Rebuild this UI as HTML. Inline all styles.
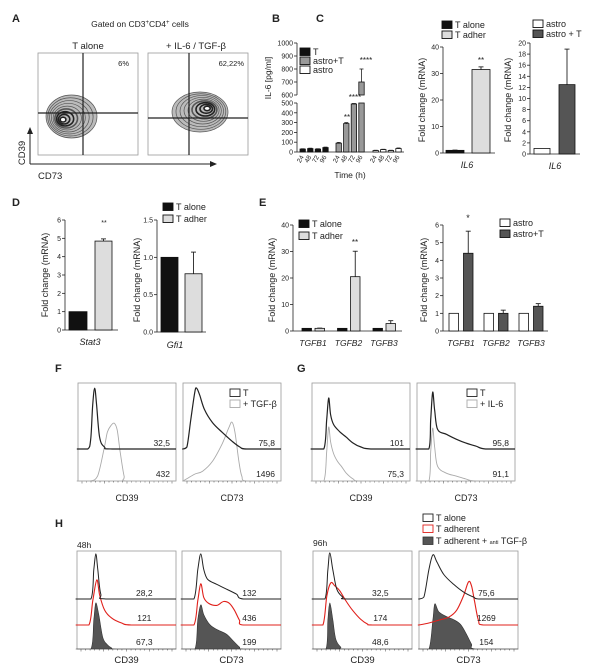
<!DOCTYPE html>
<html><head><meta charset="utf-8"><style>
html,body{margin:0;padding:0;background:#fff;}
svg{display:block;font-family:"Liberation Sans","DejaVu Sans",sans-serif;}
</style></head><body>
<svg id="fig" width="600" height="671" viewBox="0 0 600 671" xmlns="http://www.w3.org/2000/svg"></svg>
<script>
// ---------- data ----------
const B_times=['24','48','72','96'];
const B_T=[30,35,30,45];
const B_T_sem=[3,4,3,5];
const B_astroT=[90,290,490,700];
const B_astroT_sem=[8,10,5,100];
const B_astro=[15,25,15,35];
const B_astro_sem=[3,3,3,6];
const B_ticksLow=[0,100,200,300,400,500];
const B_ticksHigh=[600,700,800,900,1000];
const C1_values=[1,31.5];
const C1_sem=[0.1,1.0];
const C1_ticks=[0,10,20,30,40];
const C2_values=[1,12.5];
const C2_sem=[0,6.4];
const C2_ticks=[0,2,4,6,8,10,12,14,16,18,20];
const D1_values=[1,4.85];
const D1_sem=[0,0.12];
const D1_ticks=[0,1,2,3,4,5,6];
const D2_values=[1,0.78];
const D2_sem=[0,0.29];
const D2_ticks=[0,0.5,1,1.5];
const E_genes=['TGFB1','TGFB2','TGFB3'];
const E1_alone=[1,1,1];
const E1_adher=[1,20.5,2.8];
const E1_adher_sem=[0.1,9.6,1.1];
const E1_ticks=[0,10,20,30,40];
const E2_astro=[1,1,1];
const E2_astroT=[4.4,1.0,1.4];
const E2_astroT_sem=[1.25,0.18,0.15];
const E2_ticks=[0,1,2,3,4,5,6];
// histogram shapes [x fraction of box, height fraction of box]
const F39_T=[[0,0],[0.1,0],[0.13,0.1],[0.15,0.45],[0.17,0.62],[0.19,0.45],[0.22,0.12],[0.27,0.02],[0.35,0],[1,0]];
const F39_TGF=[[0,0],[0.12,0],[0.2,0.05],[0.27,0.35],[0.3,0.5],[0.34,0.57],[0.37,0.59],[0.4,0.52],[0.43,0.3],[0.47,0.05],[0.5,0],[1,0]];
const F73_T=[[0,0],[0.04,0.02],[0.08,0.3],[0.12,0.58],[0.14,0.62],[0.17,0.55],[0.22,0.4],[0.3,0.27],[0.4,0.17],[0.5,0.08],[0.58,0.02],[0.65,0],[1,0]];
const F73_TGF=[[0,0],[0.05,0.03],[0.12,0.07],[0.2,0.1],[0.3,0.2],[0.4,0.38],[0.47,0.55],[0.5,0.6],[0.53,0.5],[0.57,0.2],[0.6,0.05],[0.65,0],[1,0]];
const G39_T=[[0,0],[0.12,0],[0.15,0.3],[0.17,0.52],[0.19,0.35],[0.22,0.25],[0.28,0.18],[0.35,0.12],[0.42,0.06],[0.5,0.02],[0.6,0],[1,0]];
const G39_IL6=[[0,0],[0.12,0],[0.15,0.3],[0.17,0.55],[0.19,0.4],[0.22,0.28],[0.26,0.2],[0.3,0.15],[0.35,0.08],[0.42,0.02],[0.5,0],[1,0]];
const G73_T=[[0,0],[0.12,0],[0.14,0.3],[0.16,0.58],[0.18,0.4],[0.21,0.2],[0.3,0.15],[0.4,0.1],[0.5,0.06],[0.6,0.03],[0.7,0],[1,0]];
const G73_IL6=[[0,0],[0.12,0],[0.14,0.3],[0.16,0.54],[0.18,0.35],[0.21,0.15],[0.3,0.08],[0.4,0.05],[0.5,0.02],[0.6,0],[1,0]];
const H48_39_T=[[0,0],[0.14,0],[0.17,0.3],[0.19,0.46],[0.21,0.3],[0.24,0.05],[0.3,0],[1,0]];
const H48_39_A=[[0,0],[0.12,0],[0.16,0.25],[0.2,0.46],[0.23,0.3],[0.28,0.15],[0.35,0.07],[0.45,0.02],[0.55,0],[1,0]];
const H48_39_AB=[[0,0],[0.14,0],[0.17,0.3],[0.19,0.47],[0.22,0.35],[0.26,0.12],[0.3,0.05],[0.35,0.01],[0.4,0],[1,0]];
const H48_73_T=[[0,0],[0.12,0],[0.16,0.3],[0.19,0.46],[0.22,0.3],[0.26,0.2],[0.35,0.15],[0.45,0.1],[0.55,0.05],[0.62,0],[1,0]];
const H48_73_A=[[0,0],[0.12,0],[0.16,0.25],[0.19,0.42],[0.22,0.28],[0.27,0.22],[0.35,0.2],[0.42,0.24],[0.48,0.22],[0.53,0.15],[0.58,0.05],[0.62,0],[1,0]];
const H48_73_AB=[[0,0],[0.13,0],[0.16,0.3],[0.19,0.45],[0.22,0.35],[0.28,0.25],[0.35,0.2],[0.45,0.15],[0.52,0.08],[0.58,0.02],[0.62,0],[1,0]];
const H96_39_T=[[0,0],[0.12,0],[0.15,0.3],[0.17,0.47],[0.2,0.3],[0.24,0.1],[0.3,0.02],[0.35,0],[1,0]];
const H96_39_A=[[0,0],[0.1,0],[0.14,0.3],[0.18,0.43],[0.22,0.4],[0.27,0.35],[0.33,0.25],[0.4,0.15],[0.48,0.06],[0.55,0.01],[0.6,0],[1,0]];
const H96_39_AB=[[0,0],[0.13,0],[0.15,0.3],[0.17,0.47],[0.2,0.3],[0.23,0.1],[0.28,0.02],[0.33,0],[1,0]];
const H96_73_T=[[0,0],[0.05,0.02],[0.1,0.3],[0.14,0.45],[0.18,0.38],[0.25,0.25],[0.35,0.15],[0.45,0.07],[0.55,0.02],[0.62,0],[1,0]];
const H96_73_A=[[0,0],[0.1,0.02],[0.2,0.05],[0.3,0.08],[0.38,0.15],[0.45,0.3],[0.5,0.44],[0.53,0.4],[0.56,0.25],[0.6,0.05],[0.65,0],[1,0]];
const H96_73_AB=[[0,0],[0.1,0],[0.14,0.3],[0.16,0.46],[0.2,0.38],[0.28,0.33],[0.35,0.3],[0.42,0.25],[0.48,0.15],[0.53,0.05],[0.57,0],[1,0]];

// ---------- helpers ----------
const NS='http://www.w3.org/2000/svg';
const svg=document.getElementById('fig');
function el(tag,attrs,name){
  const e=document.createElementNS(NS,tag);
  for(const k in attrs) e.setAttribute(k,attrs[k]);
  
  
  svg.appendChild(e);
  return e;
}
function txt(x,y,s,name,o){
  o=o||{};
  const a={x:x,y:y,'font-size':o.size||8,fill:o.fill||'#222','text-anchor':o.anchor||'start'};
  if(o.weight) a['font-weight']=o.weight;
  if(o.style) a['font-style']=o.style;
  if(o.rot!==undefined) a.transform='rotate('+o.rot+' '+x+' '+y+')';
  const t=el('text',a,name);
  t.textContent=s;
  return t;
}
function line(x1,y1,x2,y2,name,w,c){
  return el('line',{x1:x1,y1:y1,x2:x2,y2:y2,stroke:c||'#222','stroke-width':w||0.8},name);
}
function fmt1(v){return v.toFixed(1);}
function barChart(o){
  const sc=v=>o.y0-(v/o.max)*(o.y0-o.yT);
  line(o.ax,o.y0,o.ax,o.yT,o.name+'-y-axis');
  line(o.ax,o.y0,o.xEnd,o.y0,o.name+'-x-axis');
  o.ticks.forEach(t=>{
    line(o.ax-3,sc(t),o.ax,sc(t),o.name+'-y-tick');
    txt(o.ax-4,sc(t)+2.5,o.fmt?o.fmt(t):String(t),o.name+'-y-tick-label',{size:7,anchor:'end'});
  });
  o.bars.forEach(b=>{
    const top=sc(b.v);
    if(b.e>0){
      const et=sc(b.v+b.e);
      line(b.x+b.w/2,top,b.x+b.w/2,et,o.name+'-error-bar',0.9);
      line(b.x+b.w/2-2.5,et,b.x+b.w/2+2.5,et,o.name+'-error-cap',0.9);
    }
    el('rect',{x:b.x,y:top,width:b.w,height:o.y0-top,fill:b.fill,stroke:'#111','stroke-width':0.8},o.name+'-bar-'+b.n);
  });
  return sc;
}
function legendItem(x,y,fill,label,name,stroke){
  el('rect',{x:x,y:y-7,width:10,height:7.5,fill:fill,stroke:stroke||'#111','stroke-width':0.9},name+'-swatch');
  txt(x+13,y,label,name+'-label',{size:9});
}
function box(x,y,w,h,name){
  el('rect',{x:x,y:y,width:w,height:h,fill:'none',stroke:'#999','stroke-width':0.8},name);
  for(let i=0;i<=20;i++){
    const tx=x+4+i*(w-8)/20;
    line(tx,y+h,tx,y+h+(i%5===0?2.5:1.5),name+'-tick',0.5,'#444');
  }
}
function hist(bx,by,bw,bh,base,pts,name,stroke,fill,sw){
  const P=[[bx,base]].concat(pts.map(p=>[bx+p[0]*bw,base-p[1]*bh]));
  let d='M'+P[0][0].toFixed(1)+' '+P[0][1].toFixed(1);
  for(let i=0;i<P.length-1;i++){
    const p0=P[Math.max(0,i-1)],p1=P[i],p2=P[i+1],p3=P[Math.min(P.length-1,i+2)];
    let c1y=p1[1]+(p2[1]-p0[1])/6, c2y=p2[1]-(p3[1]-p1[1])/6;
    c1y=Math.min(c1y,base); c2y=Math.min(c2y,base);
    d+=' C'+(p1[0]+(p2[0]-p0[0])/6).toFixed(1)+' '+c1y.toFixed(1)+' '+(p2[0]-(p3[0]-p1[0])/6).toFixed(1)+' '+c2y.toFixed(1)+' '+p2[0].toFixed(1)+' '+p2[1].toFixed(1);
  }
  if(fill){d+=' Z';}
  return el('path',{d:d,fill:fill||'none',stroke:stroke,'stroke-width':sw||1,'stroke-linejoin':'round'},name);
}

// ---------- panel A ----------
txt(12,22,'A','panel-label-a',{size:11,weight:'bold'});
const ga=txt(140,27,'Gated on CD3','panel-a-title',{size:8.5,anchor:'middle'});
ga.innerHTML='Gated on CD3<tspan dy="-3" font-size="6">+</tspan><tspan dy="3">CD4</tspan><tspan dy="-3" font-size="6">+</tspan><tspan dy="3"> cells</tspan>';
txt(88,49,'T alone','plot-title-t-alone',{size:9.5,anchor:'middle'});
txt(196,49,'+ IL-6 / TGF-β','plot-title-il6-tgf',{size:9.5,anchor:'middle'});
[[38,83,113,62,120,'t-alone',[46,97,95,138]],[148,189,118,208,108,'il6-tgf',[172,228,92,132]]].forEach(p=>{
  el('rect',{x:p[0],y:53,width:100,height:102,fill:'none',stroke:'#999','stroke-width':0.8},'contour-plot-'+p[5]);
  const cx=p[3],cy=p[4];
  const ext=p[6];
  el('ellipse',{cx:(ext[0]+ext[1])/2,cy:(ext[2]+ext[3])/2,rx:(ext[1]-ext[0])/2,ry:(ext[3]-ext[2])/2,fill:'#bbb',stroke:'none'},'contour-fill-'+p[5]);
  for(let i=9;i>=1;i--){
    const f=i/9;
    const rx=f*((ext[1]-ext[0])/2), ry=f*((ext[3]-ext[2])/2);
    const ox=(1-f)*((ext[0]+ext[1])/2-cx);
    el('ellipse',{cx:cx+ (ext[0]+ext[1])/2-cx - ox, cy:cy+((ext[2]+ext[3])/2-cy)*f,rx:rx,ry:ry,fill:i===1?'#fff':'none',stroke:i<4?'#222':'#555','stroke-width':i<5?1.6:0.7},'contour-'+p[5]);
  }
  line(p[1],53,p[1],155,'quadrant-vertical-'+p[5],1.2,'#222');
  line(p[0],p[2],p[0]+100,p[2],'quadrant-horizontal-'+p[5],1.2,'#222');
});
txt(129,66,'6%','quadrant-percent-t-alone',{size:7.5,anchor:'end'});
txt(244,66,'62,22%','quadrant-percent-il6-tgf',{size:7.5,anchor:'end'});
line(30,164,30,132,'cd39-arrow-axis',1,'#222');
el('path',{d:'M27 134 L30 127 L33 134 Z',fill:'#222'},'cd39-arrowhead');
line(30,164,212,164,'cd73-arrow-axis',1,'#222');
el('path',{d:'M210 161 L217 164 L210 167 Z',fill:'#222'},'cd73-arrowhead');
txt(25,153,'CD39','y-axis-title-cd39',{size:9.5,anchor:'middle',rot:-90});
txt(38,179,'CD73','x-axis-title-cd73',{size:9.5});

// ---------- panel B ----------
txt(272,22,'B','panel-label-b',{size:11,weight:'bold'});
function yB(v){ if(v<=500) return 152-v*49/500; if(v<600) return 103; return 95-(v-600)*52/400; }
line(297,152,297,103,'b-y-axis-lower');
line(297,95,297,43,'b-y-axis-upper');
line(297,152,404,152,'b-x-axis');
B_ticksLow.concat(B_ticksHigh).forEach(t=>{
  line(294,yB(t),297,yB(t),'b-y-tick');
  txt(293,yB(t)+2.5,String(t),'b-y-tick-label',{size:7,anchor:'end'});
});
txt(271,78,'IL-6 [pg/ml]','b-y-axis-title',{size:8.5,anchor:'middle',rot:-90});
const Bgroups=[[300,B_T,B_T_sem,'#111','t'],[336,B_astroT,B_astroT_sem,'#999','astro-t'],[373,B_astro,B_astro_sem,'#fff','astro']];
Bgroups.forEach(g=>{
  g[1].forEach((v,i)=>{
    const x=g[0]+i*7.6, w=5.4;
    const et=yB(v+g[2][i]);
    line(x+w/2,yB(v),x+w/2,et,'b-error-bar',0.8);
    line(x+w/2-2,et,x+w/2+2,et,'b-error-cap',0.8);
    if(v>500){
      el('rect',{x:x,y:103,width:w,height:49,fill:g[3],stroke:'#111','stroke-width':0.8},'b-bar-'+g[4]+'-'+B_times[i]+'h-lower');
      el('rect',{x:x,y:yB(v),width:w,height:95-yB(v),fill:g[3],stroke:'#111','stroke-width':0.8},'b-bar-'+g[4]+'-'+B_times[i]+'h-upper');
    } else {
      el('rect',{x:x,y:yB(v),width:w,height:152-yB(v),fill:g[3],stroke:'#111','stroke-width':0.8},'b-bar-'+g[4]+'-'+B_times[i]+'h');
    }
    txt(x+4,157,B_times[i],'b-x-tick-label',{size:6.5,anchor:'end',rot:-60});
  });
});
txt(347,120,'**','b-significance-48h',{size:8,anchor:'middle'});
txt(355,100,'****','b-significance-72h',{size:8,anchor:'middle'});
txt(366,63,'****','b-significance-96h',{size:8,anchor:'middle'});
txt(350,178,'Time (h)','b-x-axis-title',{size:8.5,anchor:'middle'});
legendItem(300,55,'#111','T','b-legend-t');
legendItem(300,64,'#999','astro+T','b-legend-astro-t');
legendItem(300,73,'#fff','astro','b-legend-astro');

// ---------- panel C ----------
txt(316,22,'C','panel-label-c',{size:11,weight:'bold'});
barChart({name:'c1',ax:443,y0:153,yT:47,max:40,ticks:C1_ticks,xEnd:495,
  bars:[{x:446,w:18,v:C1_values[0],e:C1_sem[0],fill:'#111',n:'t-alone'},{x:472,w:18,v:C1_values[1],e:C1_sem[1],fill:'#ddd',n:'t-adher'}]});
txt(481,63,'**','c1-significance',{size:8,anchor:'middle'});
txt(467,168,'IL6','c1-x-label',{size:9,anchor:'middle',style:'italic'});
txt(425,100,'Fold change (mRNA)','c1-y-axis-title',{size:9,anchor:'middle',rot:-90});
legendItem(442,28,'#111','T alone','c-legend-t-alone');
legendItem(442,38,'#ddd','T adher','c-legend-t-adher');
barChart({name:'c2',ax:530,y0:154,yT:43,max:20,ticks:C2_ticks,xEnd:580,
  bars:[{x:534,w:16,v:C2_values[0],e:C2_sem[0],fill:'#fff',n:'astro'},{x:559,w:16,v:C2_values[1],e:C2_sem[1],fill:'#555',n:'astro-t'}]});
txt(555,169,'IL6','c2-x-label',{size:9,anchor:'middle',style:'italic'});
txt(511,100,'Fold change (mRNA)','c2-y-axis-title',{size:9,anchor:'middle',rot:-90});
legendItem(533,27,'#fff','astro','c-legend-astro');
legendItem(533,37,'#555','astro + T','c-legend-astro-t');

// ---------- panel D ----------
txt(12,206,'D','panel-label-d',{size:11,weight:'bold'});
barChart({name:'d1',ax:65,y0:330,yT:220,max:6,ticks:D1_ticks,xEnd:118,
  bars:[{x:69,w:18,v:D1_values[0],e:D1_sem[0],fill:'#111',n:'t-alone'},{x:95,w:17,v:D1_values[1],e:D1_sem[1],fill:'#ddd',n:'t-adher'}]});
txt(104,225,'**','d1-significance',{size:7,anchor:'middle'});
txt(90,345,'Stat3','d1-x-label',{size:9,anchor:'middle',style:'italic'});
txt(48,275,'Fold change (mRNA)','d1-y-axis-title',{size:9,anchor:'middle',rot:-90});
barChart({name:'d2',ax:157,y0:332,yT:220,max:1.5,ticks:D2_ticks,fmt:fmt1,xEnd:206,
  bars:[{x:161,w:17,v:D2_values[0],e:D2_sem[0],fill:'#111',n:'t-alone'},{x:185,w:17,v:D2_values[1],e:D2_sem[1],fill:'#ddd',n:'t-adher'}]});
txt(175,348,'Gfi1','d2-x-label',{size:9,anchor:'middle',style:'italic'});
txt(140,280,'Fold change (mRNA)','d2-y-axis-title',{size:9,anchor:'middle',rot:-90});
legendItem(163,210,'#111','T alone','d-legend-t-alone');
legendItem(163,222,'#ddd','T adher','d-legend-t-adher');

// ---------- panel E ----------
txt(259,206,'E','panel-label-e',{size:11,weight:'bold'});
const e1bars=[];
E_genes.forEach((g,i)=>{
  const gx=302+i*35.5;
  e1bars.push({x:gx,w:9.5,v:E1_alone[i],e:0,fill:'#111',n:'t-alone-'+g});
  e1bars.push({x:gx+13,w:9.5,v:E1_adher[i],e:E1_adher_sem[i],fill:'#ddd',n:'t-adher-'+g});
  txt(gx+11,346,g,'e1-x-label',{size:8.5,anchor:'middle',style:'italic'});
});
barChart({name:'e1',ax:293,y0:331,yT:225,max:40,ticks:E1_ticks,xEnd:402,bars:e1bars});
txt(355,245,'**','e1-significance',{size:8,anchor:'middle'});
txt(275,280,'Fold change (mRNA)','e1-y-axis-title',{size:9,anchor:'middle',rot:-90});
legendItem(299,227,'#111','T alone','e-legend-t-alone');
legendItem(299,239,'#ddd','T adher','e-legend-t-adher');
const e2bars=[];
E_genes.forEach((g,i)=>{
  const gx=449+i*35;
  e2bars.push({x:gx,w:9.5,v:E2_astro[i],e:0,fill:'#fff',n:'astro-'+g});
  e2bars.push({x:gx+14.5,w:9.5,v:E2_astroT[i],e:E2_astroT_sem[i],fill:'#555',n:'astro-t-'+g});
  txt(gx+12,346,g,'e2-x-label',{size:8.5,anchor:'middle',style:'italic'});
});
barChart({name:'e2',ax:443,y0:331,yT:225,max:6,ticks:E2_ticks,xEnd:548,bars:e2bars});
txt(468,221,'*','e2-significance',{size:9,anchor:'middle'});
txt(427,280,'Fold change (mRNA)','e2-y-axis-title',{size:9,anchor:'middle',rot:-90});
legendItem(500,226,'#fff','astro','e-legend-astro');
legendItem(500,237,'#555','astro+T','e-legend-astro-t');

// ---------- panels F & G ----------
txt(55,372,'F','panel-label-f',{size:11,weight:'bold'});
txt(297,372,'G','panel-label-g',{size:11,weight:'bold'});
const FG=[
 [78,'f-cd39',F39_T,F39_TGF,'32,5','432','CD39'],
 [183,'f-cd73',F73_T,F73_TGF,'75,8','1496','CD73'],
 [312,'g-cd39',G39_T,G39_IL6,'101','75,3','CD39'],
 [417,'g-cd73',G73_T,G73_IL6,'95,8','91,1','CD73']];
FG.forEach(p=>{
  const bx=p[0],by=383,bw=98,bh=98;
  box(bx,by,bw,bh,'histogram-box-'+p[1]);
  hist(bx,by,bw,bh,by+bh,p[3],'histogram-treated-'+p[1],'#aaa',null,0.9);
  hist(bx,by,bw,bh,449,p[2],'histogram-t-'+p[1],'#222',null,1.2);
  txt(bx+bw-6,446,p[4],'mfi-t-'+p[1],{size:8.5,anchor:'end'});
  txt(bx+bw-6,477,p[5],'mfi-treated-'+p[1],{size:8.5,anchor:'end'});
  txt(bx+bw/2,501,p[6],'x-axis-title-'+p[1],{size:9,anchor:'middle'});
});
legendItem(230,396,'#fff','T','f-legend-t','#222');
legendItem(230,407,'#fff','+ TGF-β','f-legend-tgf','#aaa');
legendItem(467,396,'#fff','T','g-legend-t','#222');
legendItem(467,407,'#fff','+ IL-6','g-legend-il6','#aaa');

// ---------- panel H ----------
txt(55,527,'H','panel-label-h',{size:11,weight:'bold'});
txt(77,548,'48h','h-timepoint-48h',{size:8.5});
txt(313,546,'96h','h-timepoint-96h',{size:8.5});
const HP=[
 [77,'h48-cd39',H48_39_T,H48_39_A,H48_39_AB,['28,2','121','67,3'],'CD39'],
 [182,'h48-cd73',H48_73_T,H48_73_A,H48_73_AB,['132','436','199'],'CD73'],
 [313,'h96-cd39',H96_39_T,H96_39_A,H96_39_AB,['32,5','174','48,6'],'CD39'],
 [419,'h96-cd73',H96_73_T,H96_73_A,H96_73_AB,['75,6','1269','154'],'CD73']];
HP.forEach(p=>{
  const bx=p[0],by=551,bw=99,bh=98;
  box(bx,by,bw,bh,'histogram-box-'+p[1]);
  hist(bx,by,bw,bh,by+bh,p[4],'histogram-anti-tgf-'+p[1],'#333','#555',0.6);
  hist(bx,by,bw,bh,625,p[3],'histogram-adherent-'+p[1],'#e0201b',null,1.1);
  hist(bx,by,bw,bh,599,p[2],'histogram-alone-'+p[1],'#222',null,1);
  const nx=bx+bw*0.68;
  txt(nx,596,p[5][0],'mfi-alone-'+p[1],{size:8.5,anchor:'middle'});
  txt(nx,621,p[5][1],'mfi-adherent-'+p[1],{size:8.5,anchor:'middle'});
  txt(nx,645,p[5][2],'mfi-anti-tgf-'+p[1],{size:8.5,anchor:'middle'});
  txt(bx+bw/2,663,p[6],'x-axis-title-'+p[1],{size:9.5,anchor:'middle'});
});
legendItem(423,521,'#fff','T alone','h-legend-alone','#222');
legendItem(423,532,'#fff','T adherent','h-legend-adherent','#e0201b');
el('rect',{x:423,y:537,width:10,height:7.5,fill:'#555',stroke:'#333','stroke-width':0.8},'h-legend-anti-tgf-swatch');
const hl=txt(436,544,'','h-legend-anti-tgf-label',{size:9});
hl.innerHTML='T adherent + <tspan font-size="5.5">anti</tspan> TGF-β';
</script>
</body></html>
